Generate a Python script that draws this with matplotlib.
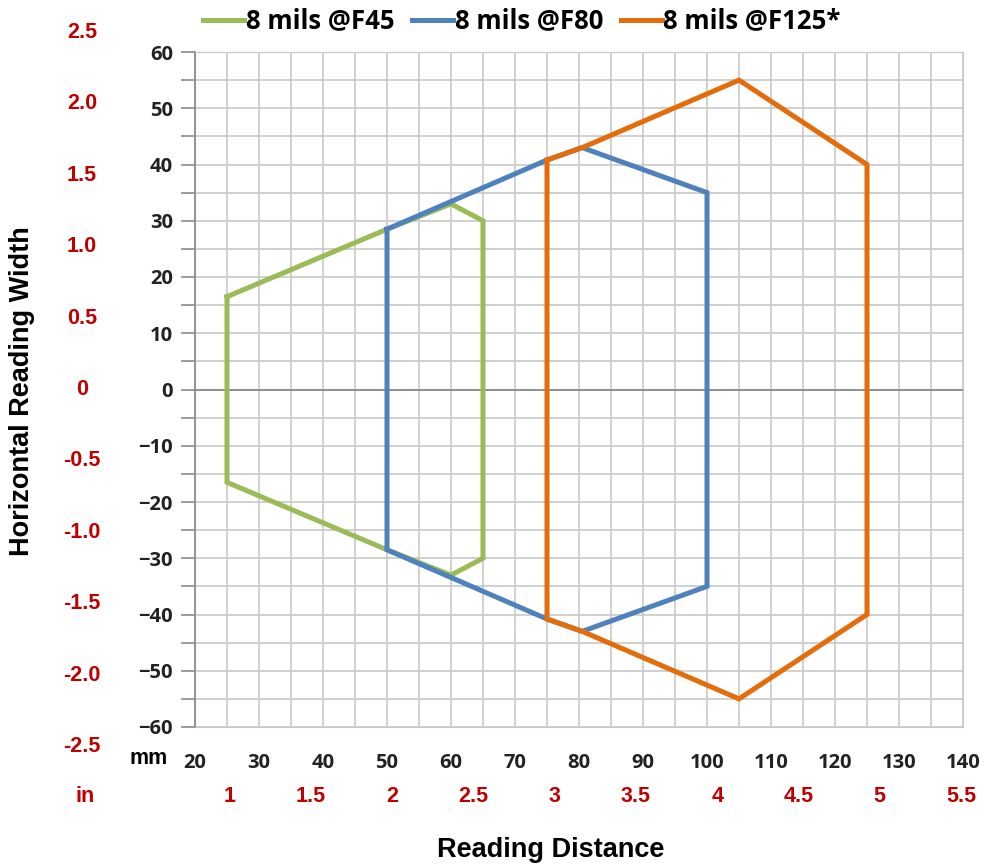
import numpy as np
import matplotlib
matplotlib.use('Agg')
import matplotlib.pyplot as plt
import matplotlib.transforms as mtransforms

# reading field outlines (mm)
f45_x = [25, 50, 60, 65, 65, 60, 50, 25, 25]
f45_y = [16.5, 28.5, 33, 30, -30, -33, -28.5, -16.5, 16.5]
f80_x = [50, 75, 80.5, 100, 100, 80.5, 75, 50, 50]
f80_y = [28.5, 40.8, 43, 35, -35, -43, -40.8, -28.5, 28.5]
f125_x = [75, 80.5, 105, 125, 125, 105, 80.5, 75, 75]
f125_y = [40.8, 43, 55, 40, -40, -55, -43, -40.8, 40.8]

labels = ['8 mils @F45', '8 mils @F80', '8 mils @F125*']
colors = ['#9BBB59', '#4F81BD', '#E46C0A']

mm_ticks_x = list(range(20, 141, 10))
mm_ticks_y = list(range(-60, 61, 10))
in_ticks_x = [1, 1.5, 2, 2.5, 3, 3.5, 4, 4.5, 5, 5.5]
in_ticks_y = [2.5, 2.0, 1.5, 1.0, 0.5, 0, -0.5, -1.0, -1.5, -2.0, -2.5]
in_labels_y = ['2.5', '2.0', '1.5', '1.0', '0.5', '0', '-0.5', '-1.0', '-1.5', '-2.0', '-2.5']
MM_PER_IN = 25.4

RED = '#C00000'
fig = plt.figure(figsize=(9.84, 8.67), dpi=100)
ax = fig.add_axes([195/984, 1-727/867, 768/984, 675/867])

ax.set_xlim(20, 140)
ax.set_ylim(-60, 60)
ax.set_xticks(mm_ticks_x)
ax.set_yticks(mm_ticks_y)
ax.set_xticks(np.arange(25, 140, 10), minor=True)
ax.set_yticks(np.arange(-55, 60, 10), minor=True)
ax.grid(True, which='both', color='#C8C8C8', linewidth=1.2)
ax.set_axisbelow(True)
ax.axhline(0, color='#8C8C8C', linewidth=1.3, zorder=1)

for sp in ['top', 'right', 'bottom']:
    ax.spines[sp].set_color('#C8C8C8')
ax.spines['left'].set_color('#8C8C8C')
ax.spines['left'].set_linewidth(1.3)

ax.tick_params(axis='y', which='both', length=10, color='#8C8C8C', width=1.2, pad=6)
ax.tick_params(axis='x', which='both', length=0, pad=19)
for lab in ax.get_xticklabels() + ax.get_yticklabels():
    lab.set_fontfamily('Open Sans')
    lab.set_fontweight('bold')
    lab.set_fontsize(14.5)
    lab.set_color('#222222')

xs = [f45_x, f80_x, f125_x]
ys = [f45_y, f80_y, f125_y]
for x, y, lab, c in zip(xs, ys, labels, colors):
    ax.plot(x, y, color=c, linewidth=3.6, label=lab, solid_joinstyle='miter', zorder=3)

# second scale in inches (red)
ty = mtransforms.blended_transform_factory(ax.transAxes, ax.transData)
for v, t in zip(in_ticks_y, in_labels_y):
    ax.text((82-195)/768, v*MM_PER_IN, t, transform=ty, ha='center', va='center',
            color=RED, fontsize=15.5, fontweight='bold', family='Liberation Sans', clip_on=False)
tx = mtransforms.blended_transform_factory(ax.transData, fig.transFigure)
for v in in_ticks_x:
    ax.text(v*MM_PER_IN, 1-797/867, f'{v:g}', transform=tx, ha='center', va='center',
            color=RED, fontsize=15.5, fontweight='bold', family='Liberation Sans')

fig.text(149/984, 1-758/867, 'mm', ha='center', va='center', fontsize=15.5,
         fontweight='bold', family='Liberation Sans')
fig.text(85/984, 1-797/867, 'in', ha='center', va='center', fontsize=15.5,
         fontweight='bold', family='Liberation Sans', color=RED)

fig.text(551/984, 1-850/867, 'Reading Distance', ha='center', va='center',
         fontsize=19.5, fontweight='bold', family='Liberation Sans')
fig.text(22/984, 1-391/867, 'Horizontal Reading Width', ha='center', va='center',
         rotation=90, fontsize=19.5, fontweight='bold', family='Liberation Sans')

fig.legend(loc='center', bbox_to_anchor=(522/984, 1-21/867), ncol=3, frameon=False,
           handlelength=1.6, handletextpad=0.05, columnspacing=0.7,
           prop={'family': 'Open Sans', 'weight': 'bold', 'size': 18.5})

fig.savefig('out.png', dpi=100, facecolor='white')
